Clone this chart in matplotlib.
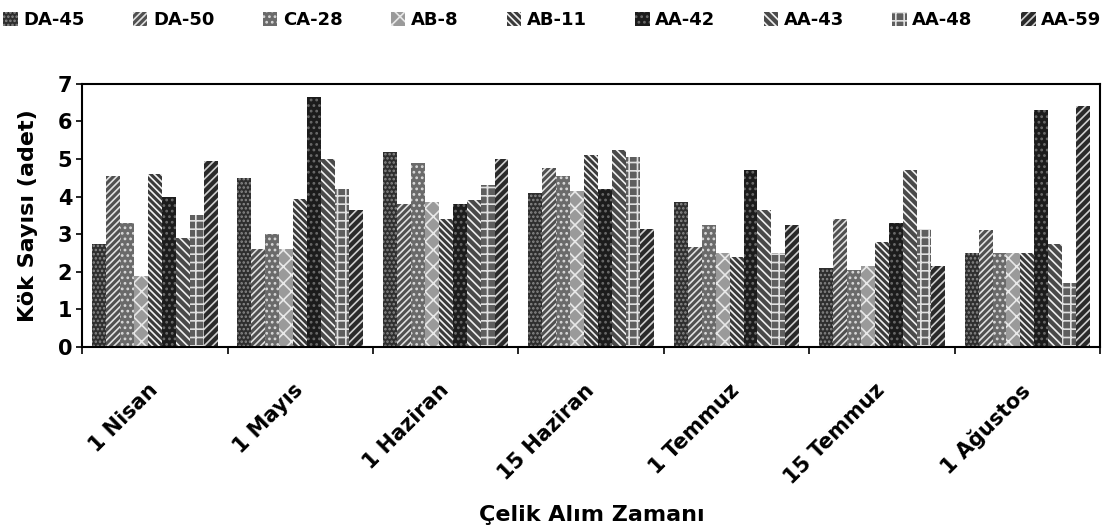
import matplotlib.pyplot as plt
import matplotlib.patches as mpatches
from matplotlib.transforms import ScaledTranslation
import numpy as np

plt.rcParams['font.family'] = ['DejaVu Sans']
plt.rcParams['font.weight'] = 'bold'
plt.rcParams['hatch.linewidth'] = 1.2

zamanlar = ['1 Nisan', '1 Mayıs', '1 Haziran', '15 Haziran', '1 Temmuz', '15 Temmuz', '1 Ağustos']
klonlar = ['DA-45', 'DA-50', 'CA-28', 'AB-8', 'AB-11', 'AA-42', 'AA-43', 'AA-48', 'AA-59']

da_45 = [2.75, 4.5, 5.2, 4.1, 3.85, 2.1, 2.5]
da_50 = [4.55, 2.6, 3.8, 4.75, 2.65, 3.4, 3.1]
ca_28 = [3.3, 3.0, 4.9, 4.55, 3.25, 2.05, 2.5]
ab_8 = [1.9, 2.6, 3.85, 4.15, 2.5, 2.15, 2.5]
ab_11 = [4.6, 3.95, 3.4, 5.1, 2.4, 2.8, 2.5]
aa_42 = [4.0, 6.65, 3.8, 4.2, 4.7, 3.3, 6.3]
aa_43 = [2.9, 5.0, 3.9, 5.25, 3.65, 4.7, 2.75]
aa_48 = [3.5, 4.2, 4.3, 5.05, 2.5, 3.15, 1.7]
aa_59 = [4.95, 3.65, 5.0, 3.15, 3.25, 2.15, 6.4]

seriler = [da_45, da_50, ca_28, ab_8, ab_11, aa_42, aa_43, aa_48, aa_59]

# gri tonlar ve desenler (orijinaldeki siyah-beyaz taramaya yakin)
stiller = [
    ('#2e2e2e', '#8a8a8a', '....'),
    ('#505050', '#e0e0e0', '/////'),
    ('#6a6a6a', '#d8d8d8', '...'),
    ('#9a9a9a', '#e8e8e8', 'xx'),
    ('#3a3a3a', '#f0f0f0', '\\\\\\\\\\'),
    ('#1c1c1c', '#6a6a6a', '...'),
    ('#4a4a4a', '#f0f0f0', '\\\\\\\\'),
    ('#5e5e5e', '#e0e0e0', '++'),
    ('#2a2a2a', '#d0d0d0', '////'),
]

fig = plt.figure(figsize=(11.09, 5.31), dpi=100)
ax = fig.add_axes([0.074, 0.3465, 0.918, 0.4955])

x = np.arange(len(zamanlar))
w = 0.096
for i, (vals, (fc, hc, h)) in enumerate(zip(seriler, stiller)):
    ax.bar(x + (i - 4) * w, vals, w, color=fc, edgecolor=hc, hatch=h,
           linewidth=0, label=klonlar[i])

ax.set_xlim(-0.5, 6.5)
ax.set_ylim(0, 7)
ax.set_yticks(range(8))
ax.set_xticks(x)
ax.set_xticklabels(zamanlar, rotation=45, ha='right', va='center',
                   rotation_mode='anchor', fontsize=15)
kaydir = ScaledTranslation(-0.1, 0, fig.dpi_scale_trans)
for lbl in ax.get_xticklabels():
    lbl.set_transform(lbl.get_transform() + kaydir)
ax.set_xticks(np.arange(-0.5, 7, 1), minor=True)
ax.tick_params(axis='x', which='major', length=0, pad=29)
ax.tick_params(axis='x', which='minor', length=5, width=1.2, direction='out')
ax.tick_params(axis='y', labelsize=15, length=4, width=1.2, pad=3)
for s in ax.spines.values():
    s.set_linewidth(1.5)

ax.set_ylabel('Kök Sayısı (adet)', fontsize=16, fontweight='bold', labelpad=14)
fig.text(0.534, 1 - 515 / 531, 'Çelik Alım Zamanı', ha='center', va='center',
         fontsize=16, fontweight='bold')

tutamaklar = [mpatches.Patch(facecolor=fc, edgecolor=hc, hatch=h, linewidth=0)
              for fc, hc, h in stiller]
fig.legend(tutamaklar, klonlar, loc='lower left', bbox_to_anchor=(0.003, 0.945, 0.99, 0.055),
           mode='expand', ncol=9, frameon=False, fontsize=13, handlelength=0.8,
           handleheight=0.8, handletextpad=0.3, borderaxespad=0, borderpad=0)

fig.savefig('out.png', dpi=100)
